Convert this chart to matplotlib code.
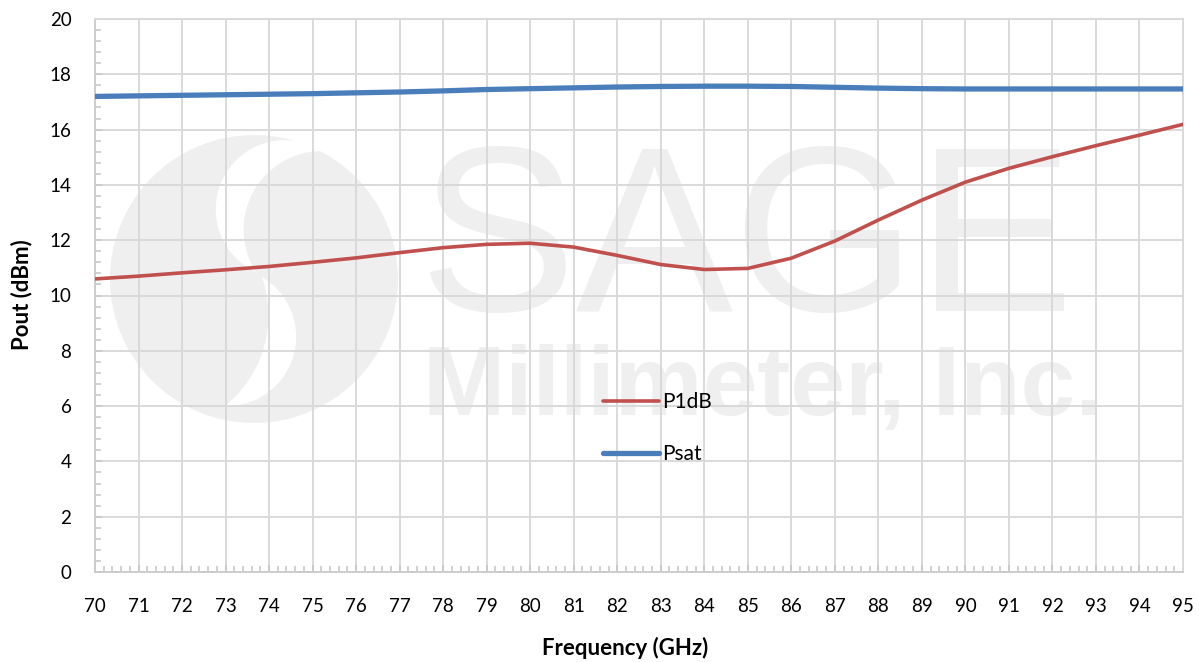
import numpy as np
import matplotlib
matplotlib.use("Agg")
import matplotlib.pyplot as plt
from matplotlib.patches import Circle, Polygon
from matplotlib.ticker import MultipleLocator

# ---- data ----
freq = [70, 71, 72, 73, 74, 75, 76, 77, 78, 79, 80, 81, 82, 83, 84, 85, 86, 87,
        88, 89, 90, 91, 92, 93, 94, 95]
p1db = [10.60, 10.70, 10.82, 10.93, 11.05, 11.20, 11.36, 11.55, 11.73, 11.85,
        11.89, 11.75, 11.45, 11.12, 10.94, 10.98, 11.35, 11.97, 12.73, 13.45,
        14.10, 14.60, 15.02, 15.42, 15.80, 16.19]
psat = [17.20, 17.22, 17.24, 17.26, 17.28, 17.30, 17.33, 17.36, 17.40, 17.45,
        17.48, 17.51, 17.54, 17.56, 17.57, 17.57, 17.56, 17.53, 17.50, 17.48,
        17.47, 17.47, 17.47, 17.47, 17.47, 17.47]
series_names = ["P1dB", "Psat"]
x_label = "Frequency (GHz)"
y_label = "Pout (dBm)"

W, H = 1199, 662
plt.rcParams['font.family'] = ['Lato', 'DejaVu Sans']
fig = plt.figure(figsize=(W / 100, H / 100), dpi=100)

# ---- background watermark (pixel coordinates) ----
bg = fig.add_axes([0, 0, 1, 1], zorder=0)
bg.set_xlim(0, W)
bg.set_ylim(H, 0)
bg.axis('off')
wm = '#efefef'
bg.add_patch(Circle((254, 279), 144, color=wm, lw=0))


def arc3(p1, pm, p2, n=80):
    (ax_, ay), (bx, by), (cx, cy) = p1, pm, p2
    d = 2 * (ax_ * (by - cy) + bx * (cy - ay) + cx * (ay - by))
    ux = ((ax_**2 + ay**2) * (by - cy) + (bx**2 + by**2) * (cy - ay)
          + (cx**2 + cy**2) * (ay - by)) / d
    uy = ((ax_**2 + ay**2) * (cx - bx) + (bx**2 + by**2) * (ax_ - cx)
          + (cx**2 + cy**2) * (bx - ax_)) / d
    r = np.hypot(ax_ - ux, ay - uy)
    a1 = np.arctan2(ay - uy, ax_ - ux)
    am = np.arctan2(by - uy, bx - ux)
    a2 = np.arctan2(cy - uy, cx - ux)
    tp = 2 * np.pi
    ccw2 = (a2 - a1) % tp
    ccwm = (am - a1) % tp
    if ccwm < ccw2:
        ang = a1 + np.linspace(0, ccw2, n)
    else:
        ang = a1 - np.linspace(0, (a1 - a2) % tp, n)
    return np.column_stack([ux + r * np.cos(ang), uy + r * np.sin(ang)])


def crescent(t1, mo, mi, t2):
    return np.vstack([arc3(t1, mo, t2), arc3(t2, mi, t1)])


bg.add_patch(Polygon(crescent((322, 151), (216, 215), (244, 222), (256, 272)),
                     color='white', lw=0))
bg.add_patch(Polygon(crescent((262, 277), (296, 333), (267, 333), (225, 406)),
                     color='white', lw=0))
bg.text(746, 311, "SAGE", fontsize=170, color=wm, ha='center', va='baseline',
        family='Liberation Sans')
bg.text(763, 415, "Millimeter, Inc.", fontsize=71, color=wm, ha='center',
        va='baseline', family='Liberation Sans', fontweight='bold')

# ---- main axes ----
ax = fig.add_axes([95 / W, 1 - 572 / H, (1183 - 95) / W, (572 - 19) / H], zorder=1)
ax.patch.set_alpha(0)
grid_c = '#d9d9d9'
ax.plot(freq, p1db, color='#c0504d', lw=2.6, label=series_names[0],
        solid_capstyle='round', solid_joinstyle='round', zorder=3)
ax.plot(freq, psat, color='#4a7ebb', lw=3.8, label=series_names[1],
        solid_capstyle='round', solid_joinstyle='round', zorder=3)

ax.set_xlim(70, 95)
ax.set_ylim(0, 20)
ax.xaxis.set_major_locator(MultipleLocator(1))
ax.xaxis.set_minor_locator(MultipleLocator(0.2))
ax.yaxis.set_major_locator(MultipleLocator(2))
ax.yaxis.set_minor_locator(MultipleLocator(0.4))
ax.grid(True, which='major', color=grid_c, lw=1.4, zorder=1)
ax.set_axisbelow(True)
for s in ax.spines.values():
    s.set_color(grid_c)
    s.set_linewidth(1.4)
ax.spines['left'].set_color('#cccccc')
ax.spines['bottom'].set_color('#cccccc')
ax.tick_params(which='both', direction='in', color='#c8c8c8', width=1.2,
               top=False, right=False)
ax.tick_params(which='major', length=5, labelsize=13.5, labelcolor='black')
ax.tick_params(which='minor', length=4)
ax.tick_params(axis='x', which='major', pad=19)
ax.tick_params(axis='y', which='major', pad=17)

fig.text(625 / W, 1 - 648 / H, x_label, ha='center', va='center',
         fontsize=16, fontweight='bold')
fig.text(22 / W, 1 - 295 / H, y_label, ha='center', va='center',
         fontsize=16, fontweight='bold', rotation=90)

leg = ax.legend(loc='upper left', bbox_to_anchor=(603 / W, 1 - 392 / H),
                bbox_transform=fig.transFigure, frameon=False, fontsize=15,
                handlelength=2.7, handletextpad=0.15, labelspacing=1.55,
                borderpad=0, borderaxespad=0)

fig.savefig("out.png", dpi=100)
